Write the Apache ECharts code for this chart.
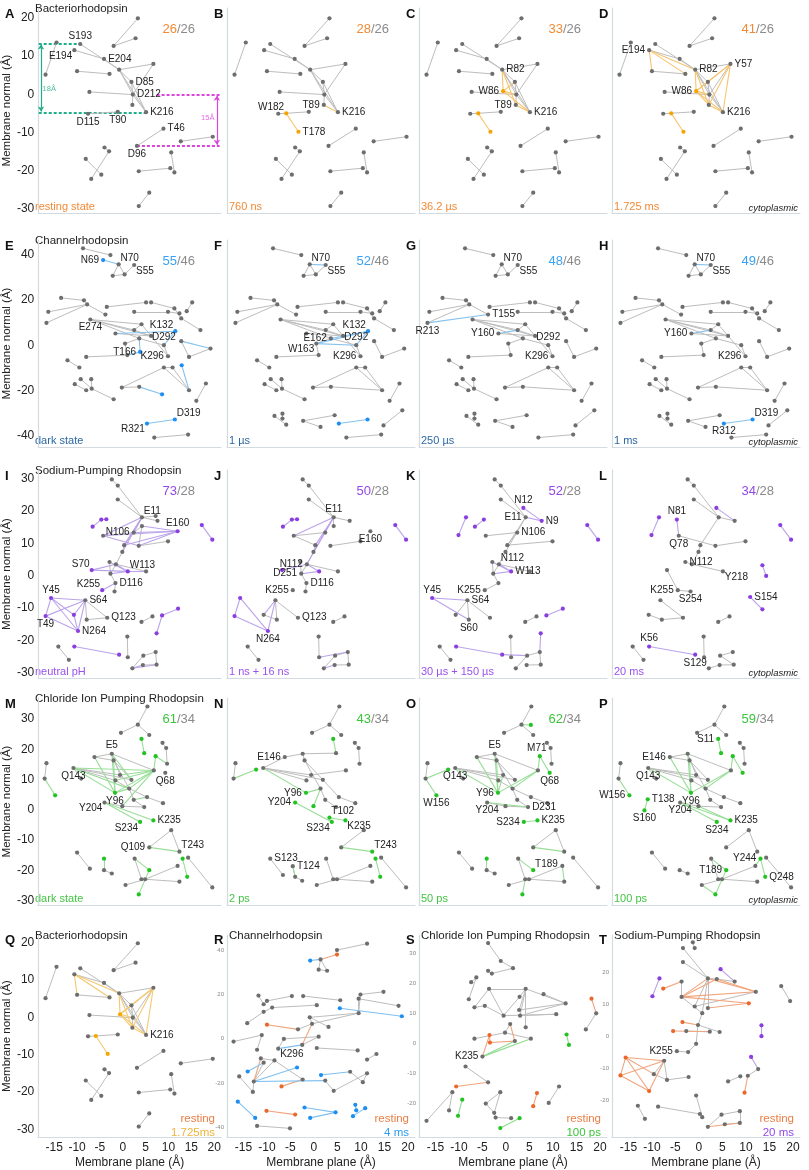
<!DOCTYPE html>
<html>
<head>
<meta charset="utf-8">
<script src="https://cdn.jsdelivr.net/npm/echarts@6/dist/echarts.min.js"></script>
<style>
  html, body { margin: 0; padding: 0; background: #fff; }
  #chart { width: 809px; height: 1170px; }
</style>
</head>
<body>
<div id="chart"></div>
<script>
// ---- Bacteriorhodopsin (rows A-D, Q) : node coordinates [membrane plane, membrane normal] ----
var BR_NODES = [[-16.9,5.1],[-14.5,13.5],[-9.3,13.1],[-10.6,11.5],[-4.1,9.2],[-0.8,6.4],[-10.0,6.0],[-2.9,5.3],
  [1.9,3.2],[2.2,-0.1],[2.1,-2.8],[5.1,-4.7],[6.7,7.9],[-7.3,0.6],[-7.6,-5.1],[-1.1,-4.6],[-2.0,12.6],[3.3,19.8],
  [2.8,14.6],[8.9,-9.0],[3.1,-13.5],[12.7,-12.3],[19.7,-11.1],[-4.0,-13.9],[-3.0,-14.9],[-8.1,-16.9],[-4.7,-21.0],
  [-6.9,-22.1],[3.5,-20.1],[10.4,-19.3],[10.6,-15.2],[11.3,-20.4],[5.8,-25.7],[3.5,-29.2],[-0.6,0.8],[-5.9,-5.0],[-3.3,-9.8]];
var BR_COMMON = [[0,1],[2,5],[3,4],[4,5],[6,7],[5,12],[5,8],[5,9],[5,11],[8,9],[12,9],[8,11],[9,11],[10,9],[13,9],
  [14,15],[16,17],[16,18],[19,20],[21,22],[23,24],[25,26],[24,27],[28,29],[30,31],[32,33]];
var B_NEW = [[35,36],[10,11]];
var C_NEW = [[35,36],[10,11],[34,5],[34,11],[34,9],[34,8],[5,10]];
var D_NEW = [[35,36],[10,11],[34,5],[34,11],[34,9],[34,8],[5,10],[3,6],[3,7],[12,34],[12,11],[12,10],[34,10],[12,8],[3,5]];
var A_LABELS = [[2,'S193','top'],[3,'E194','bl'],[4,'E204','right'],[8,'D85','right'],[9,'D212','right'],[11,'K216','right'],
  [14,'D115','bottom'],[15,'T90','bottom'],[19,'T46','right'],[20,'D96','bottom']];
var B_LABELS = [[35,'W182','tl'],[36,'T178','right'],[10,'T89','left'],[11,'K216','right']];
var C_LABELS = [[5,'R82','right'],[34,'W86','left'],[10,'T89','left'],[11,'K216','right']];
var D_LABELS = [[3,'E194','left'],[5,'R82','right'],[12,'Y57','right'],[34,'W86','left'],[11,'K216','right']];
var Q_LABELS = [[11,'K216','right']];
// distance annotations in panel A: [x from, x to, y] dashed guides and [x, y top, y bottom] arrows
var GUIDE_18 = [[-18.4,-9.3,13.3],[-18.4,5.1,-4.8]];
var ARROW_18 = [-17.9,13.0,-4.5];
var GUIDE_15 = [[7.4,21.2,-0.1],[3.1,21.2,-13.5]];
var ARROW_15 = [20.6,-0.4,-13.2];
var NOTE_18 = [-16.1,1.5,'18Å'];
var NOTE_15 = [18.6,-6.1,'15Å'];

// ---- Channelrhodopsin (E-H) ----
var CR_NODES = [[-8.7,43.0],[-2.7,40.0],[-4.3,37.8],[-0.9,35.9],[2.5,35.6],[-2.2,30.8],[0.4,31.4],[-13.5,21.0],
  [-8.5,19.9],[-16.3,14.8],[-7.8,18.1],[-16.7,9.9],[-3.8,13.6],[-3.5,17.0],[5.1,19.0],[6.2,19.0],[11.3,16.3],
  [2.5,14.8],[9.9,14.8],[12.4,14.1],[14.0,15.1],[15.2,19.0],[12.8,11.9],[17.0,6.7],[-7.1,11.4],[-1.6,5.2],
  [4.1,9.3],[11.5,6.2],[2.5,6.7],[6.2,4.1],[3.6,3.0],[3.8,-3.0],[0.5,0.7],[9.0,0.0],[9.9,-4.9],[12.8,1.8],
  [19.2,-1.5],[14.5,-5.2],[-8.0,-5.2],[1.0,-4.4],[-12.1,-6.7],[-9.5,-9.9],[9.0,-9.9],[10.9,-9.9],[12.9,-8.9],
  [-0.2,-18.8],[14.5,-20.0],[18.2,-17.0],[16.1,-24.7],[3.6,-18.5],[8.6,-21.8],[-10.5,-17.3],[-9.2,-15.1],
  [-6.9,-15.1],[-8.0,-20.0],[-6.8,-19.3],[-2.0,-24.0],[5.3,-34.8],[11.4,-33.0],[6.9,-41.0],[14.3,-39.7],
  [-8.4,-31.4],[-6.7,-30.4],[-6.7,-32.6],[-5.9,-35.3],[-2.3,-33.6],[4.4,-31.1],[1.4,-36.3],[14.8,-35.6],[18.8,-28.9]];
var CR_COMMON = [[0,1],[3,5],[3,6],[6,4],[7,8],[10,9],[10,11],[10,12],[8,10],[13,14],[15,16],[17,18],[18,19],[20,21],
  [22,23],[16,22],[24,26],[24,29],[24,28],[25,29],[26,29],[24,30],[30,33],[33,34],[35,37],[36,37],[38,39],[40,41],
  [32,30],[42,45],[42,46],[43,46],[42,43],[47,48],[51,54],[52,55],[53,55],[55,56],[59,60],[28,29],[26,28],[5,6],
  [34,29],[39,32],[45,49]];
var CR_LOWER = [[49,46],[61,64],[62,63],[65,66],[65,67],[68,69]];
var E_NEW = [[2,3],[25,27],[30,31],[35,36],[44,46],[49,50],[57,58],[27,33],[31,39]];
var F_NEW = [[3,4],[32,27],[30,27],[27,33],[57,58],[32,33]];
var G_NEW = [[11,12],[25,28]];
var H_NEW = [[3,4],[25,28],[57,58]];
var E_LABELS = [[2,'N69','left'],[3,'N70','tr'],[4,'S55','br'],[24,'E274','bottom'],[27,'K132','tl'],[33,'D292','top'],
  [31,'T166','left'],[34,'K296','left'],[58,'D319','tr'],[57,'R321','bl']];
var F_LABELS = [[3,'N70','tr'],[4,'S55','br'],[27,'K132','tl'],[30,'E162','left'],[32,'W163','bl'],[33,'D292','top'],[34,'K296','left']];
var G_LABELS = [[3,'N70','tr'],[4,'S55','br'],[12,'T155','right'],[11,'R213','bottom'],[25,'Y160','left'],[33,'D292','top'],[34,'K296','left']];
var H_LABELS = [[3,'N70','tr'],[4,'S55','br'],[25,'Y160','left'],[34,'K296','left'],[58,'D319','tr'],[57,'R312','bottom']];

// ---- Sodium-pumping rhodopsin (I-L) ----
var NAR_NODES = [[-2.4,29.7],[-1.1,27.8],[-1.1,23.5],[4.2,18.0],[7.2,18.4],[7.6,16.9],[12.0,13.7],[17.3,15.6],
  [19.6,11.1],[-6.6,15.1],[-4.7,17.3],[-3.6,17.4],[-4.3,12.3],[2.4,13.3],[4.2,15.3],[0.3,9.4],[3.5,9.2],[9.9,10.6],
  [-0.1,7.3],[-6.8,1.7],[-2.9,4.2],[-1.5,3.5],[1.1,1.3],[5.1,1.3],[-2.7,0.6],[-1.6,-2.3],[-4.5,-4.5],[-1.8,-4.9],
  [-15.7,-6.9],[-8.2,-7.6],[-16.9,-12.5],[-10.7,-12.1],[-7.9,-13.6],[-3.4,-13.0],[-9.8,-17.1],[4.1,-14.3],
  [6.5,-12.6],[8.6,-12.3],[12.1,-10.2],[7.4,-17.8],[1.0,-18.8],[1.1,-25.2],[-14.1,-21.9],[-11.8,-26.0],
  [-10.6,-21.9],[-0.8,-24.4],[2.1,-28.6],[4.5,-24.7],[7.2,-23.6],[4.4,-27.6],[7.4,-27.5],[3.7,20.9],
  [-8.5,18.0],[-10.1,12.5],[10.9,-6.6],[13.5,-10.4],[13.5,3.2],[14.3,-0.1]];
var I_GRAY = [[0,1],[1,3],[2,3],[3,4],[3,5],[12,13],[13,15],[14,16],[16,17],[15,18],[18,21],[20,24],[21,24],[24,25],
  [25,27],[21,23],[29,32],[29,33],[32,33],[35,36],[40,41],[42,43],[46,47],[47,48],[49,50],[48,50],[3,15],[14,13]];
var I_NEW = [[9,10],[10,11],[7,8],[12,6],[12,3],[13,6],[15,6],[16,6],[18,3],[12,16],[15,3],[13,3],[14,6],[19,22],
  [20,22],[21,22],[19,21],[23,22],[28,29],[28,31],[28,34],[28,30],[30,29],[30,34],[29,34],[31,34],[29,31],[44,45],
  [37,39],[46,49],[46,50],[26,25],[24,22],[37,38]];
var J_GRAY = [[0,1],[1,3],[2,3],[12,13],[12,15],[16,17],[15,18],[18,21],[20,24],[21,24],[24,25],[25,27],[21,23],
  [29,32],[29,33],[31,32],[35,36],[40,41],[42,43],[46,47],[47,48],[49,50],[48,50],[3,5],[3,14]];
var J_NEW = [[7,8],[9,10],[10,11],[12,3],[18,3],[21,3],[15,3],[21,22],[24,22],[19,21],[28,30],[30,34],[28,34],
  [29,34],[29,31],[46,49],[41,48]];
var K_GRAY = [[0,1],[1,3],[2,3],[12,13],[13,15],[15,17],[18,21],[20,24],[21,24],[24,25],[25,26],[21,23],[29,32],
  [29,33],[31,29],[35,36],[40,41],[42,43],[46,47],[47,48],[49,50],[48,50],[3,15],[3,18]];
var K_NEW = [[51,5],[3,5],[52,53],[9,10],[7,8],[20,22],[21,22],[24,22],[28,29],[28,32],[44,45],[45,47],[39,48],[37,38]];
var L_GRAY = [[0,1],[1,3],[2,3],[3,5],[3,15],[12,16],[16,17],[15,18],[18,21],[20,21],[21,23],[19,26],[26,27],
  [29,33],[31,32],[32,33],[35,36],[40,41],[42,43],[46,49],[47,48],[47,50],[49,50]];
var L_NEW = [[52,53],[10,12],[51,5],[7,8],[54,55],[56,57],[44,45]];
var I_LABELS = [[3,'E11','tr'],[6,'E160','top'],[13,'N106','left'],[19,'S70','tl'],[22,'W113','tr'],[25,'D116','right'],
  [26,'K255','tl'],[28,'Y45','top'],[29,'S64','right'],[30,'T49','bottom'],[33,'Q123','right'],[34,'N264','right']];
var J_LABELS = [[3,'E11','top'],[6,'E160','bottom'],[21,'N112','left'],[24,'D251','left'],[25,'D116','right'],
  [26,'K255','left'],[33,'Q123','right'],[34,'N264','bottom']];
var K_LABELS = [[51,'N12','top'],[3,'E11','left'],[5,'N9','right'],[13,'N106','right'],[21,'N112','tr'],[22,'W113','right'],
  [26,'K255','left'],[28,'Y45','top'],[29,'S64','right'],[32,'S60','bottom']];
var L_LABELS = [[10,'N81','top'],[12,'Q78','bottom'],[20,'N112','right'],[23,'Y218','br'],[26,'K255','left'],
  [27,'S254','bottom'],[54,'S154','right'],[44,'K56','top'],[45,'S129','bottom']];

// ---- Chloride ion pumping rhodopsin (M-P) ----
var CLR_NODES = [[5.4,34.1],[3.3,28.1],[-0.4,25.4],[5.8,24.7],[4.1,23.4],[4.7,18.7],[8.7,22.1],[9.5,20.4],
  [9.7,15.2],[7.2,17.7],[6.8,13.0],[9.3,12.2],[8.0,12.8],[-2.4,18.5],[-6.2,17.4],[-2.0,16.3],[-10.8,13.8],
  [-9.1,10.3],[-1.6,9.7],[-0.6,11.5],[1.9,9.9],[-1.7,5.6],[1.4,7.0],[2.4,3.3],[5.3,4.2],[8.8,2.2],[-4.0,2.4],
  [-0.1,1.2],[4.7,0.9],[6.7,-3.5],[3.8,-4.0],[-16.7,15.4],[-17.1,10.3],[-14.8,4.8],[5.8,-12.4],[10.6,-6.7],
  [12.4,-13.8],[-10.0,-14.1],[-7.2,-19.4],[-4.1,-16.1],[-4.1,-19.9],[-2.4,-21.0],[2.6,-16.1],[5.8,-19.9],
  [4.1,-22.9],[4.9,-22.9],[0.6,-24.8],[3.5,-27.9],[12.0,-18.5],[12.4,-23.7],[13.1,-16.1],[14.1,-22.1],
  [14.3,-15.8],[19.6,-25.6],[3.3,-2.6],[-9.3,-16.1],[-4.5,-18.6],[-4.0,-22.1],[-2.5,-23.4],[-6.6,-21.5],
  [-10.9,3.5],[-11.6,-0.2],[-12.3,13.3],[5.3,28.0]];
var M_GRAY = [[0,1],[1,2],[1,3],[6,7],[7,8],[13,14],[13,15],[16,18],[16,19],[16,20],[15,20],[15,22],[22,23],[23,28],
  [26,27],[27,28],[13,10],[34,35],[35,36],[37,38],[40,41],[42,44],[44,45],[46,45],[45,48],[49,45],[52,53],[31,32],
  [24,25],[22,24],[16,17],[13,19],[18,22],[14,15]];
var M_NEW = [[4,5],[9,8],[32,33],[16,21],[13,21],[14,21],[16,22],[21,10],[22,10],[27,10],[9,10],[26,29],[26,30],
  [34,36],[39,40],[42,43],[43,47],[50,51],[18,10],[19,10],[16,10],[13,20],[22,21],[15,21],[23,24]];
var N_GRAY = [[0,1],[1,2],[1,3],[6,7],[7,8],[13,14],[14,16],[16,19],[16,20],[13,15],[15,20],[15,22],[13,5],[22,23],
  [23,28],[20,24],[24,25],[19,10],[35,34],[42,44],[44,45],[46,45],[45,48],[49,45],[52,53],[31,32],[55,59],[56,57],
  [57,58],[16,18]];
var N_NEW = [[4,5],[32,62],[16,21],[21,22],[27,22],[26,30],[54,29],[34,36],[56,57],[50,51]];
var O_NEW = [[1,63],[9,10],[9,11],[16,21],[13,21],[21,10],[22,10],[33,32],[32,62],[26,28],[30,29],[34,36],[39,40],
  [42,43],[44,47],[48,49],[21,19],[14,21],[15,21]];
var P_NEW = [[4,5],[9,10],[9,11],[33,32],[60,61],[16,21],[13,21],[14,21],[21,10],[22,10],[26,29],[26,30],[27,29],
  [42,43],[43,47],[46,47],[50,51],[48,50],[15,21]];
var M_LABELS = [[13,'E5','top'],[16,'Q143','bottom'],[21,'Y96','bottom'],[26,'Y204','bl'],[30,'S234','bl'],
  [29,'K235','right'],[11,'Q68','bottom'],[34,'Q109','left'],[36,'T243','tr']];
var N_LABELS = [[14,'E146','left'],[21,'Y96','left'],[26,'Y204','left'],[54,'T102','tr'],[30,'S234','bl'],
  [29,'K235','br'],[36,'T243','tr'],[55,'S123','right'],[56,'T124','right']];
var O_LABELS = [[13,'E5','top'],[7,'M71','left'],[11,'Q68','bottom'],[16,'Q143','bottom'],[33,'W156','bottom'],
  [21,'Y96','left'],[26,'Y204','bottom'],[28,'D231','right'],[30,'S234','left'],[29,'K235','right'],[43,'T189','tr']];
var P_LABELS = [[4,'S11','left'],[14,'E146','left'],[16,'Q143','bottom'],[33,'W156','left'],[60,'T138','right'],
  [61,'S160','bottom'],[21,'Y96','bottom'],[26,'Y204','bottom'],[29,'K235','right'],[30,'S234','bottom'],
  [43,'T189','left'],[50,'Y244','left'],[51,'Q248','right']];

// ---- comparison panels R, S, T ----
var R_NODES = [[4.9,39.9],[11.3,42.8],[4.9,37.9],[1.4,35.7],[-0.8,35.2],[1.0,31.1],[2.8,30.6],[-11.8,19.4],
  [-10.7,15.5],[-10.0,17.0],[-4.7,19.2],[-2.3,19.2],[5.6,17.3],[-8.9,14.0],[0.6,15.1],[-14.2,7.0],[-10.7,12.1],
  [9.9,19.9],[14.8,21.1],[9.5,18.0],[18.0,14.8],[5.5,13.7],[9.5,11.5],[18.7,10.1],[-10.0,6.3],[-3.4,4.2],
  [-0.9,9.6],[-0.4,6.7],[3.1,5.3],[-17.1,-1.3],[-11.1,1.6],[-12.1,-5.0],[-6.4,-0.1],[-2.5,-2.8],[-7.6,-4.5],
  [1.0,0.9],[0.6,-4.2],[9.3,-5.3],[-11.3,-8.9],[-10.7,-10.8],[-8.4,-9.8],[-3.6,-13.0],[-14.1,-14.8],[-12.8,-19.3],
  [-13.0,-24.0],[-15.9,-17.0],[-2.4,-18.4],[2.4,-18.9],[-6.9,-21.5],[1.5,-16.4],[7.7,-14.9],[10.4,-19.6],
  [11.3,-15.6],[13.3,-6.9],[11.3,-9.4],[4.2,-23.5],[-16.2,-28.4],[-12.5,-35.7],[-10.1,-32.5],[-4.0,-34.2],
  [-2.0,-31.0],[-0.8,-35.7],[4.6,-33.2],[8.8,-29.8],[9.0,-32.3],[8.3,-34.9],[10.9,-31.3],[-12.1,-39.3],[-5.1,-40.4]];
var R_GRAY = [[0,1],[3,5],[3,6],[5,6],[7,8],[9,10],[11,12],[13,14],[15,16],[16,13],[17,18],[19,20],[17,22],[19,22],
  [22,26],[22,27],[26,27],[25,27],[28,26],[29,30],[30,31],[32,35],[33,35],[36,37],[39,43],[40,43],[40,46],[45,44],
  [43,44],[47,55],[50,51],[51,52],[53,54],[55,52],[67,68],[32,34],[38,40]];
var R_REST = [[2,3],[24,25],[48,46],[58,59],[33,27],[43,38]];
var R_LATE = [[4,3],[21,23],[34,33],[42,39],[43,41],[43,47],[49,50],[56,57],[60,62],[61,62],[63,64],[65,66]];
var R_LABELS = [[34,'K296','br']];

var S_NODES = [[-3.8,33.5],[-1.1,27.5],[1.5,25.1],[-3.8,24.2],[-3.0,23.3],[-7.4,20.4],[-6.3,22.0],[-7.9,14.7],
  [-3.6,18.2],[4.2,18.2],[-6.7,12.0],[-4.5,12.5],[2.9,15.5],[8.0,16.4],[12.7,13.3],[2.8,11.1],[3.0,9.2],
  [-0.5,9.2],[4.2,5.3],[10.7,9.7],[0.9,6.4],[-0.2,3.5],[-3.5,2.7],[-3.4,0.2],[1.9,0.7],[-6.7,1.5],[5.3,1.5],
  [-5.0,-4.5],[-2.2,-5.1],[-8.6,-7.8],[-10.6,-14.5],[-3.8,-13.1],[-11.4,-16.4],[-16.9,-26.0],[-12.1,-22.5],
  [-9.3,-18.9],[-10.2,-24.3],[-4.3,-20.2],[-1.2,-16.4],[-2.5,-23.3],[-2.2,-24.9],[-1.2,-28.4],[1.1,-25.1],
  [2.9,-25.1],[5.8,-21.1],[6.6,-16.7],[9.1,-20.0],[11.3,-14.5],[18.2,14.9],[19.2,10.0],[17.0,4.6],[12.9,2.9],[13.4,-0.6]];
var S_GRAY = [[0,1],[1,2],[3,4],[4,2],[6,7],[5,6],[8,9],[8,10],[9,12],[9,14],[9,15],[9,16],[9,18],[13,14],[15,14],
  [16,14],[11,17],[17,19],[16,19],[20,21],[25,21],[21,26],[29,31],[32,34],[32,33],[37,38],[37,39],[38,39],[39,40],
  [40,42],[46,47],[49,50],[10,11],[8,17],[12,17]];
var S_REST = [[22,23],[23,24],[24,20],[30,31],[48,49],[44,45],[22,27]];
var S_LATE = [[27,26],[27,24],[35,36],[41,43],[51,52]];
var S_LABELS = [[27,'K235','left']];

var T_NODES = [[-1.3,29.4],[-0.9,27.6],[-3.4,27.6],[-3.4,23.2],[1.9,18.1],[4.6,21.0],[7.6,17.1],[3.8,17.9],
  [-8.4,18.1],[-9.9,12.5],[-7.6,14.9],[-3.7,17.1],[-3.7,12.3],[12.1,13.9],[-0.9,9.3],[1.9,8.8],[10.6,10.3],
  [0.7,7.2],[-3.5,4.4],[-5.5,1.6],[-2.7,1.6],[-0.2,3.5],[2.3,1.4],[4.4,1.3],[-0.6,-2.4],[-2.3,-5.0],[-4.7,-4.7],
  [17.5,15.7],[19.4,11.0],[13.3,3.4],[13.3,0.0],[11.1,-6.5],[12.6,-10.3],[10.4,-12.4],[9.7,-17.7],[6.2,-14.2],
  [8.8,-12.6],[-15.6,-6.7],[-16.7,-12.3],[-10.6,-17.2],[-7.4,-7.7],[-9.6,-11.9],[-6.8,-13.7],[-2.2,-12.8],
  [-13.0,-21.8],[-11.5,-25.9],[-8.7,-22.1],[0.2,-24.4],[-0.6,-18.6],[0.7,-25.4],[1.9,-28.4],[4.8,-24.6],
  [5.5,-27.6],[8.7,-23.5],[8.7,-27.2]];
var T_GRAY = [[0,1],[2,4],[3,4],[4,7],[7,6],[11,12],[14,13],[14,4],[17,4],[17,12],[17,21],[20,22],[21,23],[21,24],
  [24,25],[25,26],[27,28],[32,33],[35,36],[40,41],[40,42],[41,42],[42,43],[44,45],[46,47],[48,49],[50,51],[51,53],
  [53,54],[52,54],[15,4]];
var T_REST = [[10,11],[12,13],[12,16],[4,13],[7,13],[15,16],[19,22],[18,21],[33,34],[37,38],[37,40],[37,41],[37,39],
  [38,39],[38,40],[39,40],[50,54],[12,4],[12,7]];
var T_LATE = [[5,6],[8,9],[29,30],[31,32]];
var T_LABELS = [[26,'K255','left']];

// ---- axis ranges / ticks ----
var Y_RANGE_ROWS = [[-31, 22.5], [-45.2, 46.7], [-31.6, 32.6], [-31.4, 36.9]];
var Y_RANGE_BOTTOM = [[-32, 22], [-44.3, 46.7], [-31.4, 36.2], [-31.6, 31.7]];
var Y_TICKS_ROWS = [[-30,-20,-10,0,10,20], [-40,-20,0,20,40], [-30,-20,-10,0,10,20,30], [-30,-20,-10,0,10,20,30]];
var Y_TICKS_BOTTOM = [[-30,-20,-10,0,10,20], [-40,-20,0,20,40], [-20,-10,0,10,20,30], [-20,-10,0,10,20]];
var X_TICKS = [-15,-10,-5,0,5,10,15,20];
var X_RANGE = [-18.5, 21.5];

var ROW_TITLES = ['Bacteriorhodopsin', 'Channelrhodopsin', 'Sodium-Pumping Rhodopsin', 'Chloride Ion Pumping Rhodopsin'];
var BOTTOM_TITLES = ['Bacteriorhodopsin', 'Channelrhodopsin', 'Chloride Ion Pumping Rhodopsin', 'Sodium-Pumping Rhodopsin'];
var LETTERS = 'ABCDEFGHIJKLMNOPQRST'.split('');
var COUNTS = [['26','26'],['28','26'],['33','26'],['41','26'],['55','46'],['52','46'],['48','46'],['49','46'],
  ['73','28'],['50','28'],['52','28'],['34','28'],['61','34'],['43','34'],['62','34'],['59','34']];
var STATES = ['resting state','760 ns','36.2 µs','1.725 ms','dark state','1 µs','250 µs','1 ms',
  'neutral pH','1 ns + 16 ns','30 µs + 150 µs','20 ms','dark state','2 ps','50 ps','100 ps'];
var BOTTOM_LEGEND = [['resting','1.725ms'],['resting','4 ms'],['resting','100 ps'],['resting','20 ms']];

// ---- styling ----
var FONT = 'Liberation Sans, Arial, sans-serif';
var COL_LEFT = [33, 227, 419, 612];
var PANEL_W = 188;
var ROW_TOP = [8, 240, 470, 698, 935];
var ROW_H = [205, 207, 208, 207, 206.5];
var AXIS_C = '#d3dae0';
var GRAY_EDGE = '#bdbdbd';
var GRAY_NODE = '#6e6e6e';
var GREEN_NOTE = '#1fae8a';
var MAGENTA_NOTE = '#dc45dc';
var THEMES = [
  { text: '#f28a35', state: '#f28a35', edge: '#f7c46f', node: '#f5a300' },
  { text: '#3aa2f3', state: '#2c68a4', edge: '#86c3ef', node: '#1e8ff0' },
  { text: '#9348e6', state: '#9a52ee', edge: '#bba3ea', node: '#8a3ee0' },
  { text: '#3cc43c', state: '#42c442', edge: '#98de98', node: '#22c322' }
];
var REST_THEME = { text: '#ea7d45', edge: '#f1a47c', node: '#e9692c' };
var LATE_THEMES = [
  { text: '#f0b43a', edge: '#f4c86f', node: '#f5a800' },
  { text: '#2b9df4', edge: '#7fc0f0', node: '#1e8ff0' },
  { text: '#3cc43c', edge: '#8fdc8f', node: '#22c322' },
  { text: '#9348e6', edge: '#b9a0e8', node: '#8a3ee0' }
];

var PANELS = [
  { nodes: BR_NODES, gray: BR_COMMON, news: [], labels: A_LABELS },
  { nodes: BR_NODES, gray: BR_COMMON, news: B_NEW, labels: B_LABELS },
  { nodes: BR_NODES, gray: BR_COMMON, news: C_NEW, labels: C_LABELS },
  { nodes: BR_NODES, gray: BR_COMMON, news: D_NEW, labels: D_LABELS },
  { nodes: CR_NODES, gray: CR_COMMON, news: E_NEW, labels: E_LABELS },
  { nodes: CR_NODES, gray: CR_COMMON.concat(CR_LOWER), news: F_NEW, labels: F_LABELS },
  { nodes: CR_NODES, gray: CR_COMMON.concat(CR_LOWER), news: G_NEW, labels: G_LABELS },
  { nodes: CR_NODES, gray: CR_COMMON.concat(CR_LOWER), news: H_NEW, labels: H_LABELS },
  { nodes: NAR_NODES, gray: I_GRAY, news: I_NEW, labels: I_LABELS },
  { nodes: NAR_NODES, gray: J_GRAY, news: J_NEW, labels: J_LABELS },
  { nodes: NAR_NODES, gray: K_GRAY, news: K_NEW, labels: K_LABELS },
  { nodes: NAR_NODES, gray: L_GRAY, news: L_NEW, labels: L_LABELS },
  { nodes: CLR_NODES, gray: M_GRAY, news: M_NEW, labels: M_LABELS },
  { nodes: CLR_NODES, gray: N_GRAY, news: N_NEW, labels: N_LABELS },
  { nodes: CLR_NODES, gray: M_GRAY, news: O_NEW, labels: O_LABELS },
  { nodes: CLR_NODES, gray: M_GRAY, news: P_NEW, labels: P_LABELS }
];
var BOTTOM_PANELS = [
  { nodes: BR_NODES, gray: BR_COMMON, rest: [], late: D_NEW, labels: Q_LABELS },
  { nodes: R_NODES, gray: R_GRAY, rest: R_REST, late: R_LATE, labels: R_LABELS },
  { nodes: S_NODES, gray: S_GRAY, rest: S_REST, late: S_LATE, labels: S_LABELS },
  { nodes: T_NODES, gray: T_GRAY, rest: T_REST, late: T_LATE, labels: T_LABELS }
];

function placeLabel(side) {
  var m = {
    right: { position: 'right', distance: 2 },
    left: { position: 'left', distance: 2 },
    top: { position: 'top', distance: 1 },
    bottom: { position: 'bottom', distance: 1 },
    tr: { position: [4, 1], align: 'left', verticalAlign: 'bottom' },
    tl: { position: [0, 1], align: 'right', verticalAlign: 'bottom' },
    br: { position: [4, 3], align: 'left', verticalAlign: 'top' },
    bl: { position: [0, 3], align: 'right', verticalAlign: 'top' }
  };
  return m[side] || m.right;
}

// groups: [{edges, color, nodeColor}] ; first group is the gray one
function buildGraph(idx, nodes, groups, labels) {
  var incident = {};
  groups.forEach(function (g, gi) {
    g.edges.forEach(function (e) {
      [e[0], e[1]].forEach(function (n) {
        incident[n] = incident[n] || {};
        incident[n][gi] = true;
      });
    });
  });
  var labelMap = {};
  labels.forEach(function (l) {
    labelMap[l[0]] = l;
    if (!incident[l[0]]) incident[l[0]] = { 0: true };
  });
  var data = Object.keys(incident).map(function (k) {
    var gs = Object.keys(incident[k]);
    var color = GRAY_NODE;
    if (gs.length === 1 && groups[gs[0]].nodeColor) color = groups[gs[0]].nodeColor;
    var item = { name: 'n' + k, value: nodes[k], itemStyle: { color: color } };
    var l = labelMap[k];
    if (l) {
      var lab = placeLabel(l[2]);
      item.label = Object.assign({ show: true, formatter: l[1], fontSize: 10, color: '#222', fontFamily: FONT }, lab);
    }
    return item;
  });
  var links = [];
  groups.forEach(function (g) {
    g.edges.forEach(function (e) {
      links.push({ source: 'n' + e[0], target: 'n' + e[1], lineStyle: { color: g.color, width: g.width || 1, opacity: 1 } });
    });
  });
  return {
    type: 'graph',
    coordinateSystem: 'cartesian2d',
    xAxisIndex: idx,
    yAxisIndex: idx,
    layout: 'none',
    silent: true,
    animation: false,
    symbol: 'circle',
    symbolSize: 4.2,
    label: { show: false },
    lineStyle: { color: GRAY_EDGE, width: 1, curveness: 0 },
    emphasis: { disabled: true },
    z: 3,
    data: data,
    links: links
  };
}

// dashed guide lines + double arrow + small note, drawn in panel A
function buildNote(guides, arrow, note, color) {
  return [
    {
      type: 'lines', coordinateSystem: 'cartesian2d', xAxisIndex: 0, yAxisIndex: 0,
      silent: true, animation: false, z: 2,
      lineStyle: { color: color, width: 1.8, type: [3, 2], opacity: 1 },
      data: guides.map(function (g) { return { coords: [[g[0], g[2]], [g[1], g[2]]] }; })
    },
    {
      type: 'lines', coordinateSystem: 'cartesian2d', xAxisIndex: 0, yAxisIndex: 0,
      silent: true, animation: false, z: 2,
      symbol: ['arrow', 'arrow'], symbolSize: 5,
      lineStyle: { color: color, width: 1.2, opacity: 1 },
      data: [{ coords: [[arrow[0], arrow[1]], [arrow[0], arrow[2]]] }]
    },
    {
      type: 'scatter', xAxisIndex: 0, yAxisIndex: 0, silent: true, animation: false,
      symbolSize: 0,
      label: { show: true, position: 'inside', formatter: note[2], fontSize: 7.5, color: color, fontFamily: FONT },
      data: [[note[0], note[1]]]
    }
  ];
}

var grids = [], xAxes = [], yAxes = [], series = [], graphics = [];

function addAxes(idx, r, c, yr, yticks, showY, smallY) {
  grids.push({ left: COL_LEFT[c], top: ROW_TOP[r], width: PANEL_W, height: ROW_H[r] });
  var isBottom = r === 4;
  xAxes.push({
    gridIndex: idx, type: 'value', min: X_RANGE[0], max: X_RANGE[1],
    axisLine: { show: true, onZero: false, lineStyle: { color: AXIS_C, width: 1 } },
    axisTick: { show: false }, splitLine: { show: false },
    axisLabel: { show: isBottom, customValues: X_TICKS, fontSize: 12, color: '#222', fontFamily: FONT, margin: 5 },
    name: isBottom ? 'Membrane plane (Å)' : '', nameLocation: 'middle', nameGap: 20,
    nameTextStyle: { fontSize: 12, color: '#222', fontFamily: FONT }
  });
  yAxes.push({
    gridIndex: idx, type: 'value', min: yr[0], max: yr[1],
    axisLine: { show: true, onZero: false, lineStyle: { color: AXIS_C, width: 1.2 } },
    axisTick: { show: false }, splitLine: { show: false },
    axisLabel: {
      show: showY, customValues: yticks, fontFamily: FONT,
      fontSize: smallY ? 6 : 12, color: smallY ? '#888' : '#222', margin: smallY ? 3 : 4
    },
    name: c === 0 ? 'Membrane normal (Å)' : '', nameLocation: 'middle', nameGap: 21, nameRotate: 90,
    nameTextStyle: { fontSize: 11.5, color: '#222', fontFamily: FONT }
  });
}

function text(x, y, str, style) {
  graphics.push({
    type: 'text', x: x, y: y, silent: true,
    style: Object.assign({ text: str, fontFamily: FONT, fontSize: 11, fill: '#222', align: 'left', verticalAlign: 'middle' }, style)
  });
}

PANELS.forEach(function (p, i) {
  var r = Math.floor(i / 4), c = i % 4;
  var th = THEMES[r];
  addAxes(i, r, c, Y_RANGE_ROWS[r], Y_TICKS_ROWS[r], c === 0, false);
  series.push(buildGraph(i, p.nodes, [
    { edges: p.gray, color: GRAY_EDGE, nodeColor: null },
    { edges: p.news, color: th.edge, nodeColor: th.node, width: 1.1 }
  ], p.labels));
  var ax = COL_LEFT[c], top = ROW_TOP[r], bottom = ROW_TOP[r] + ROW_H[r];
  text(c === 0 ? 5 : ax - 13, top + 6, LETTERS[i], { fontSize: 13, fontWeight: 'bold', fill: '#111' });
  if (c === 0) text(ax + 2, top + 1, ROW_TITLES[r], { fontSize: 11.5 });
  text(ax + 162, top + 21, '{a|' + COUNTS[i][0] + '}{b|/' + COUNTS[i][1] + '}', {
    align: 'right', fontSize: 13,
    rich: { a: { fill: th.text, fontSize: 13, fontFamily: FONT }, b: { fill: '#8a8a8a', fontSize: 13, fontFamily: FONT } }
  });
  text(ax + 2, bottom - 6, STATES[i], { fontSize: 11, fill: th.state });
  if (c === 3) text(ax + 186, bottom - 5, 'cytoplasmic', { fontSize: 9.5, fontStyle: 'italic', align: 'right', fill: '#222' });
});

series = series.concat(buildNote(GUIDE_18, ARROW_18, NOTE_18, GREEN_NOTE));
series = series.concat(buildNote(GUIDE_15, ARROW_15, NOTE_15, MAGENTA_NOTE));

BOTTOM_PANELS.forEach(function (p, c) {
  var i = 16 + c;
  var lt = LATE_THEMES[c];
  addAxes(i, 4, c, Y_RANGE_BOTTOM[c], Y_TICKS_BOTTOM[c], true, c > 0);
  series.push(buildGraph(i, p.nodes, [
    { edges: p.gray, color: GRAY_EDGE, nodeColor: null },
    { edges: p.rest, color: REST_THEME.edge, nodeColor: REST_THEME.node, width: 1.1 },
    { edges: p.late, color: lt.edge, nodeColor: lt.node, width: 1.1 }
  ], p.labels));
  var ax = COL_LEFT[c], top = ROW_TOP[4], bottom = ROW_TOP[4] + ROW_H[4];
  text(c === 0 ? 5 : ax - 13, top + 5, LETTERS[i], { fontSize: 13, fontWeight: 'bold', fill: '#111' });
  text(ax + 2, top + 1, BOTTOM_TITLES[c], { fontSize: 11.5 });
  text(ax + 182, bottom - 23, BOTTOM_LEGEND[c][0], { fontSize: 11.5, align: 'right', fill: REST_THEME.text });
  text(ax + 182, bottom - 9, BOTTOM_LEGEND[c][1], { fontSize: 11.5, align: 'right', fill: lt.text });
});

var chart = echarts.init(document.getElementById('chart'), null, { renderer: 'canvas' });
chart.setOption({
  backgroundColor: '#fff',
  animation: false,
  grid: grids,
  xAxis: xAxes,
  yAxis: yAxes,
  series: series,
  graphic: graphics
});
</script>
</body>
</html>
